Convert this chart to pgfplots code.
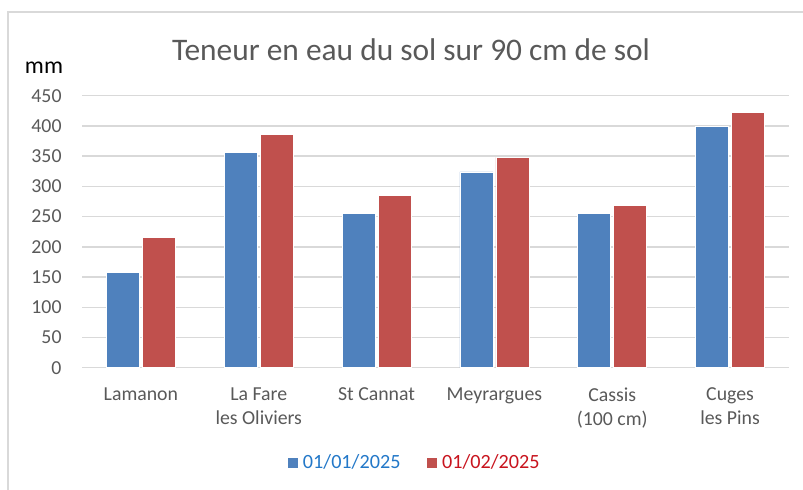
\documentclass[border=0pt]{standalone}
\usepackage{fontspec}
\setmainfont{Carlito}
\usepackage{pgfplots}
\pgfplotsset{compat=1.18}

\definecolor{serieA}{HTML}{4F81BD}
\definecolor{serieB}{HTML}{C0504D}
\definecolor{gridgray}{HTML}{D9D9D9}
\definecolor{txtgray}{HTML}{595959}
\definecolor{legblue}{RGB}{35,120,200}
\definecolor{legred}{RGB}{200,20,30}

\begin{document}
\begin{tikzpicture}
\useasboundingbox (0,0) rectangle (401.5pt,244.5pt);
% cadre du graphique (seuls les bords gauche et haut sont visibles)
\draw[gridgray, line width=0.75pt] (4pt,-2pt) -- (4pt,238.5pt) -- (404pt,238.5pt);

\begin{axis}[
    at={(41pt,60.65pt)}, anchor=south west,
    scale only axis,
    width=353.5pt, height=136pt,
    xmin=-0.5, xmax=5.5,
    ymin=0, ymax=450,
    ytick={0,50,...,450},
    xtick={0,...,5},
    xticklabels={Lamanon,{La Fare\\les Oliviers},St Cannat,Meyrargues,{Cassis\\(100 cm)},{Cuges\\les Pins}},
    axis line style={draw=none},
    major tick length=0pt,
    ymajorgrids,
    grid style={gridgray, line width=0.75pt},
    /pgf/number format/assume math mode=true,
    ticklabel style={font=\fontsize{9.9}{12}\selectfont, text=txtgray},
    yticklabel style={xshift=-6.7pt},
    xticklabel style={align=center, yshift=-6.5pt},
    legend style={draw=none, fill=none, at={(0.4717,-0.350)}, anchor=center,
        font=\fontsize{10.1}{12}\selectfont,
        legend columns=2,
        /tikz/every even column/.append style={column sep=11pt}},
    legend image code/.code={\fill[#1] (0pt,-2.75pt) rectangle (5.5pt,2.75pt);},
]
\addplot[ybar, bar width=16.5pt, bar shift=-9pt, fill=serieA, draw=white, line width=0.3pt]
    coordinates {(0,158) (1,356) (2,255) (3,324) (4,255) (5,399)};
\addplot[ybar, bar width=16.5pt, bar shift=9pt, fill=serieB, draw=white, line width=0.3pt]
    coordinates {(0,216) (1,386) (2,285) (3,348) (4,269) (5,422)};
\legend{\textcolor{legblue}{01/01/2025}, \textcolor{legred}{01/02/2025}}
\end{axis}

\node[text=txtgray, font=\fontsize{15.7}{18}\selectfont] at (205.5pt,219.5pt) {Teneur en eau du sol sur 90 cm de sol};
\node[text=black, font=\fontsize{11.9}{14}\selectfont] at (22pt,210.5pt) {mm};
\end{tikzpicture}
\end{document}
